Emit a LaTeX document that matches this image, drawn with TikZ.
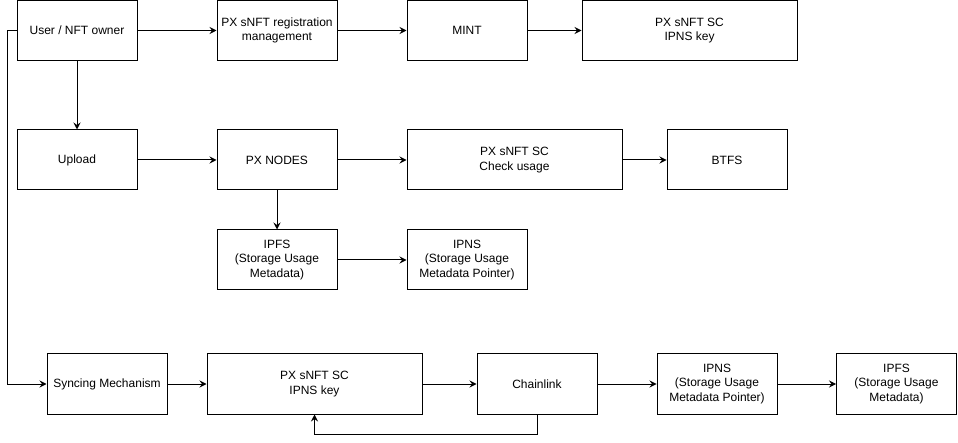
\documentclass[tikz,border=0pt]{standalone}
\usepackage{fontspec}
\setmainfont{Liberation Sans}
\usetikzlibrary{arrows.meta}
\begin{document}
\begin{tikzpicture}[x=1pt,y=-1pt,
  box/.style={draw=black,line width=1pt,rectangle,inner sep=0pt,align=center,
    minimum height=60pt,font=\fontsize{12}{14.5}\selectfont},
  conn/.style={line width=1pt,-{Stealth[length=7pt,width=7pt,inset=2.5pt]}}]
\useasboundingbox (0,0) rectangle (958,443);
% row 1
\node[box,minimum width=120pt] (user) at (77,30.5) {User / NFT owner};
\node[box,minimum width=120pt] (reg) at (277,30.5) {PX sNFT registration\\management};
\node[box,minimum width=120pt] (mint) at (467,30.5) {MINT};
\node[box,minimum width=215pt] (key1) at (689.5,30.5) {PX sNFT SC\\IPNS key};
% row 2
\node[box,minimum width=120pt] (upload) at (77,160) {Upload};
\node[box,minimum width=120pt] (nodes) at (277,160) {PX NODES};
\node[box,minimum width=215pt] (check) at (514.5,160) {PX sNFT SC\\Check usage};
\node[box,minimum width=120pt] (btfs) at (727,160) {BTFS};
% row 3
\node[box,minimum width=120pt] (ipfs1) at (277,260) {IPFS\\(Storage Usage\\Metadata)};
\node[box,minimum width=120pt] (ipns1) at (467,260) {IPNS\\(Storage Usage\\Metadata Pointer)};
% row 4
\node[box,minimum width=120pt] (sync) at (107,384) {Syncing Mechanism};
\node[box,minimum width=215pt] (key2) at (314.5,384) {PX sNFT SC\\IPNS key};
\node[box,minimum width=120pt] (chain) at (537,384) {Chainlink};
\node[box,minimum width=120pt] (ipns2) at (717,384) {IPNS\\(Storage Usage\\Metadata Pointer)};
\node[box,minimum width=120pt] (ipfs2) at (896.5,384) {IPFS\\(Storage Usage\\Metadata)};
% connectors
\draw[conn] (user) -- (reg);
\draw[conn] (reg) -- (mint);
\draw[conn] (mint) -- (key1);
\draw[conn] (user) -- (upload);
\draw[conn] (upload) -- (nodes);
\draw[conn] (nodes) -- (check);
\draw[conn] (check) -- (btfs);
\draw[conn] (nodes) -- (ipfs1);
\draw[conn] (ipfs1) -- (ipns1);
\coordinate (leftc) at (7,30.5);
\draw[conn] (user.west) -- (leftc) |- (sync.west);
\draw[conn] (sync) -- (key2);
\draw[conn] (key2) -- (chain);
\draw[conn] (chain) -- (ipns2);
\draw[conn] (ipns2) -- (ipfs2);
\coordinate (fb) at (537,434);
\draw[conn] (chain.south) -- (fb) -| (key2.south);
\end{tikzpicture}
\end{document}
